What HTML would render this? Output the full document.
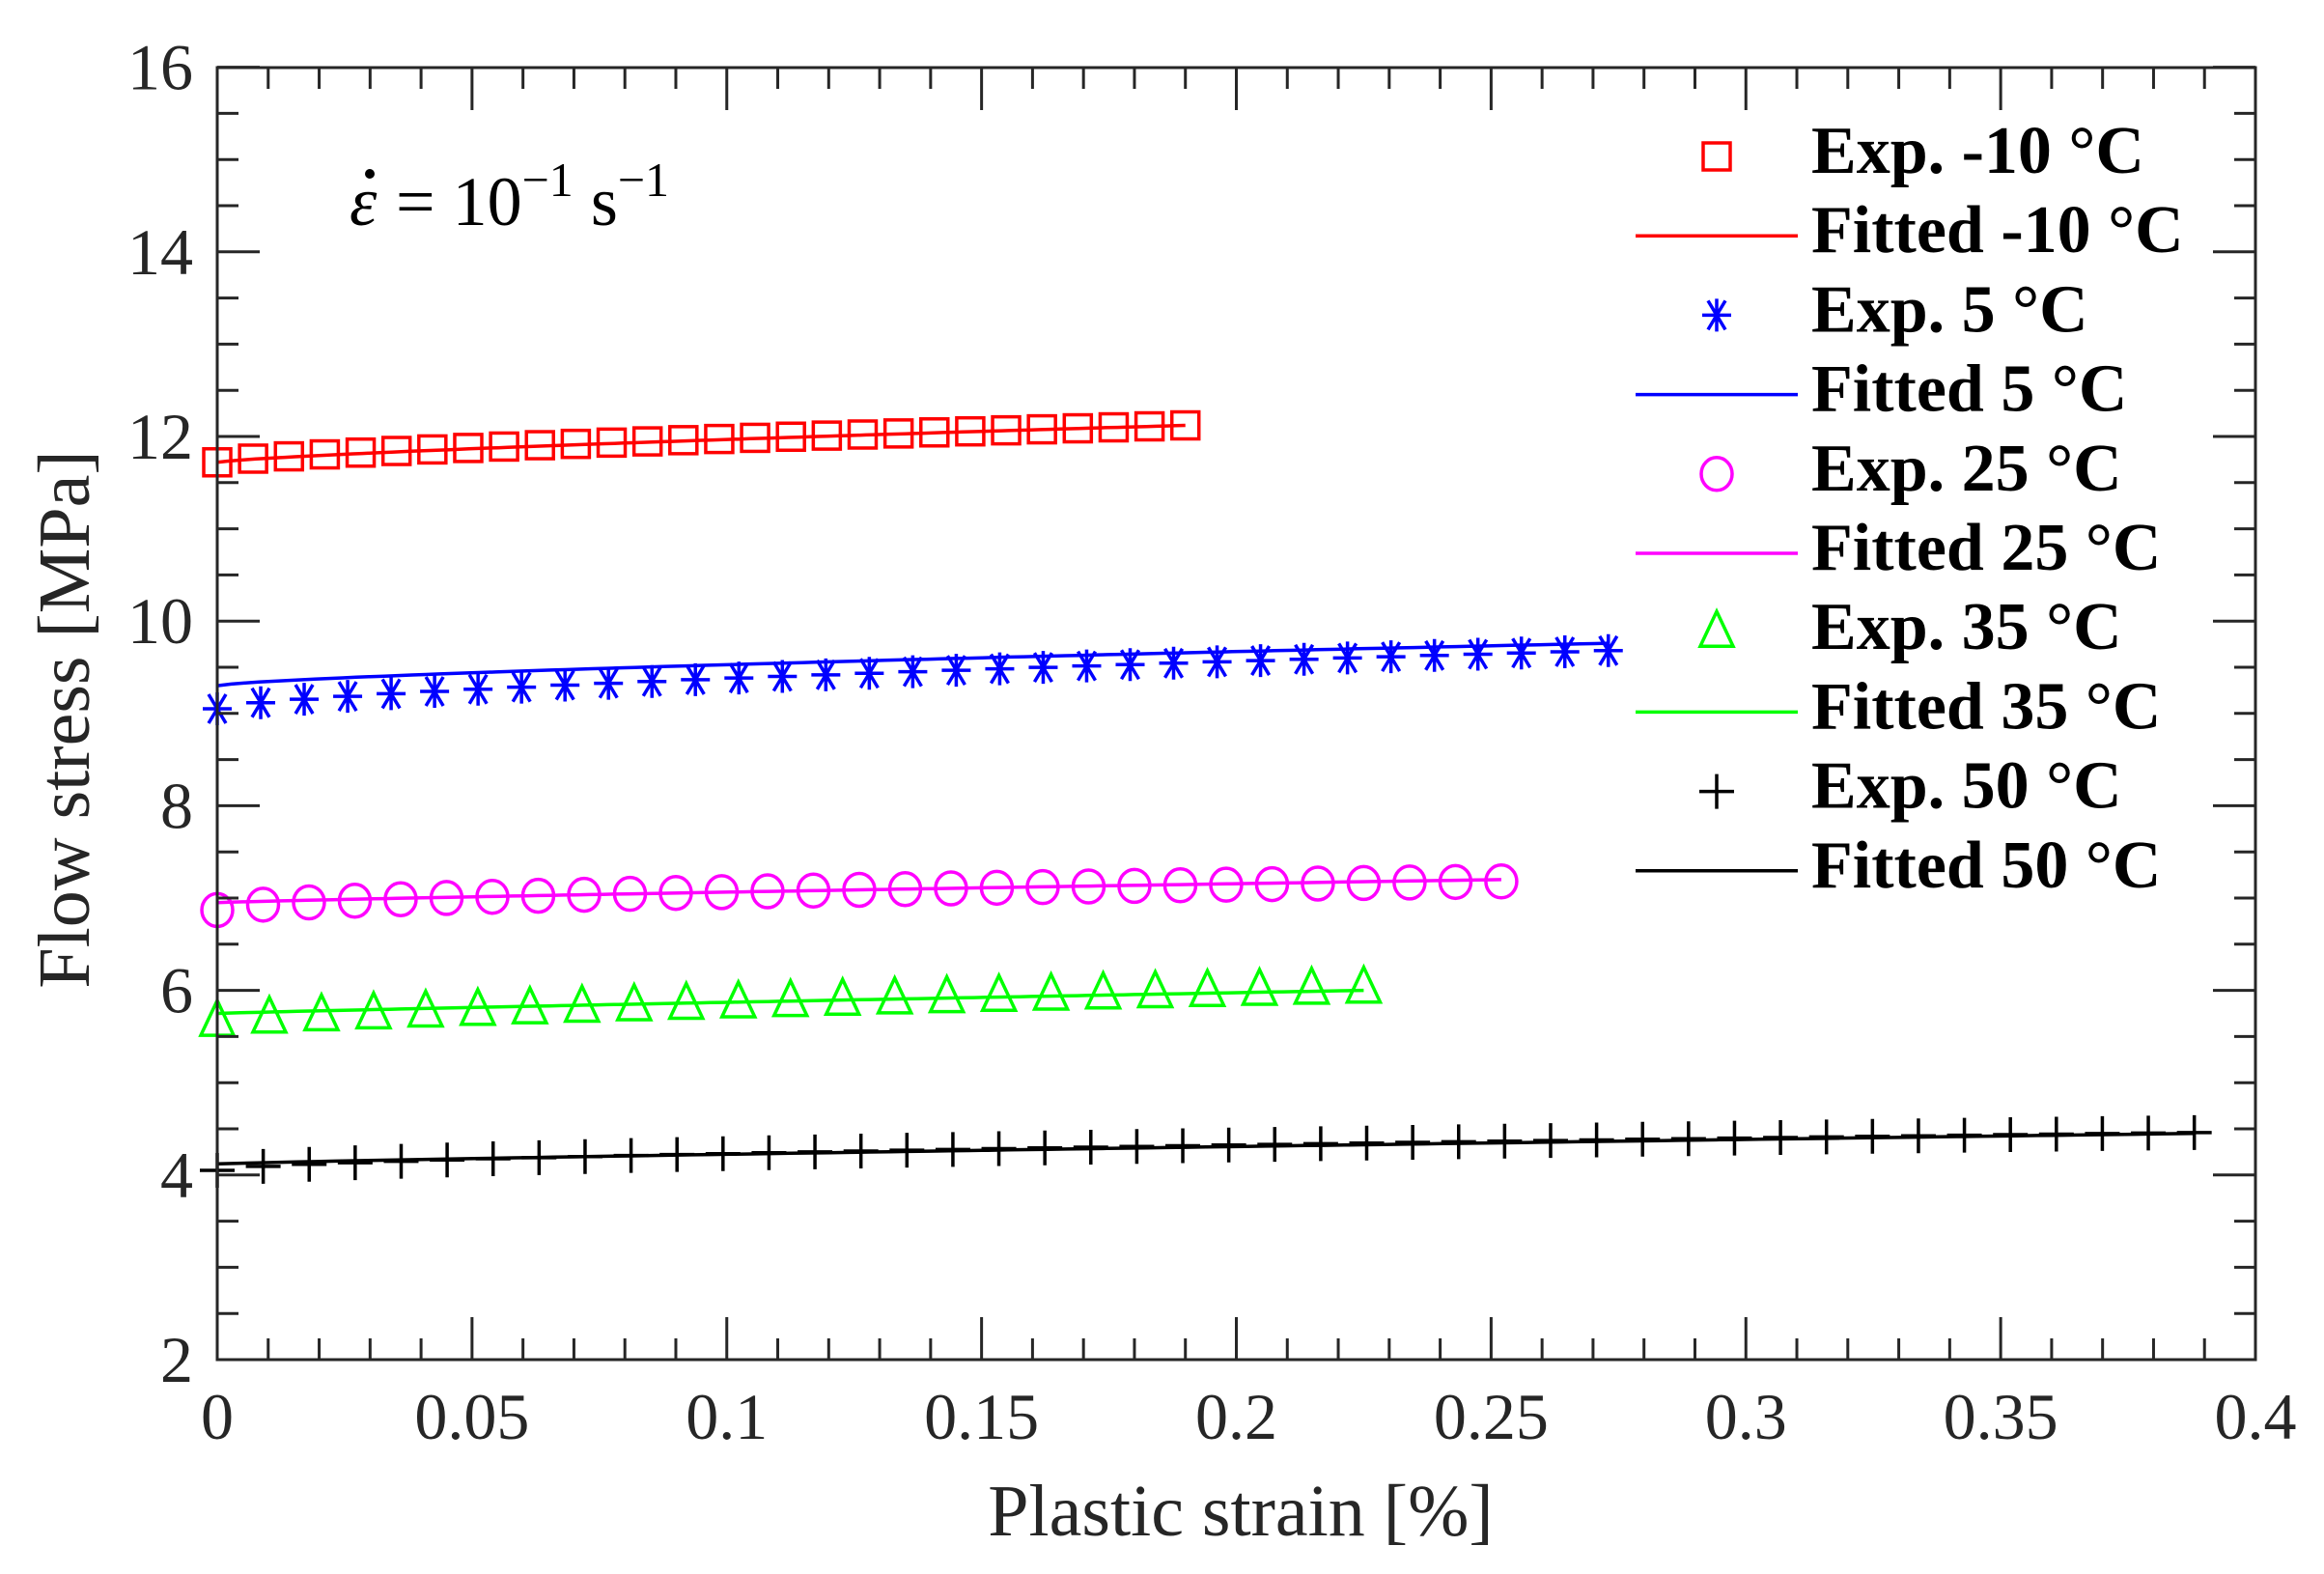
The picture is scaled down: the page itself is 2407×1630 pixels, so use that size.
<!DOCTYPE html>
<html><head><meta charset="utf-8"><style>
html,body{margin:0;padding:0;background:#fff;}
svg{display:block;}
</style></head><body>
<svg id="s" xmlns="http://www.w3.org/2000/svg" width="2407" height="1630" viewBox="0 0 2407 1630" font-family="'Liberation Serif', serif">
<rect width="2407" height="1630" fill="#fff"/>
<g id="plot"></g>
<g id="axes" stroke="#262626" stroke-width="3" fill="none"></g>
<g fill="#262626" font-size="68" id="labels"></g>
<text x="1285" y="1590" font-size="76" text-anchor="middle" fill="#262626">Plastic strain [%]</text>
<text transform="translate(92,745) rotate(-90)" font-size="76" text-anchor="middle" fill="#262626">Flow stress [MPa]</text>
<text x="362" y="233" font-size="72" font-style="italic" fill="#000">ε</text>
<circle cx="383" cy="180" r="5" fill="#000"/>
<text x="410" y="233" font-size="72" fill="#000">= 10<tspan dy="-30" font-size="50">−1</tspan><tspan dy="30"> s</tspan><tspan dy="-30" font-size="50">−1</tspan></text>
<g id="legend"></g>
</svg>
<script>
var NS="http://www.w3.org/2000/svg";
function X(x){return 225+x*5277.5;}
function Y(y){return 1408-(y-2)*95.6;}
function el(p,t,a){var e=document.createElementNS(NS,t);for(var k in a)e.setAttribute(k,a[k]);p.appendChild(e);return e;}
var axes=document.getElementById('axes'),labels=document.getElementById('labels'),plot=document.getElementById('plot'),leg=document.getElementById('legend');
var L=225,R=2336,T=70,B=1408;
el(axes,'rect',{x:L,y:T,width:R-L,height:B-T});
var d='';
for(var i=0;i<=40;i++){var x=X(i*0.01);var len=(i%5==0)?44:22;d+='M'+x+' '+B+'v'+(-len)+'M'+x+' '+T+'v'+len;}
for(var i=0;i<=28;i++){var y=Y(2+i*0.5);var len=(i%4==0)?44:22;d+='M'+L+' '+y+'h'+len+'M'+R+' '+y+'h'+(-len);}
el(axes,'path',{d:d});
var xl=['0','0.05','0.1','0.15','0.2','0.25','0.3','0.35','0.4'];
for(var i=0;i<9;i++){var t=el(labels,'text',{x:X(i*0.05),y:1490,'text-anchor':'middle'});t.textContent=xl[i];}
for(var v=2;v<=16;v+=2){var t=el(labels,'text',{x:200,y:Y(v)+23,'text-anchor':'end'});t.textContent=v;}
function marker(p,type,cx,cy,c){
 var sw=3.5;
 if(type=='s')el(p,'rect',{x:cx-14,y:cy-14,width:28,height:28,fill:'none',stroke:c,'stroke-width':sw});
 else if(type=='o')el(p,'ellipse',{cx:cx,cy:cy,rx:16,ry:17,fill:'none',stroke:c,'stroke-width':sw});
 else if(type=='t')el(p,'path',{d:'M'+cx+' '+(cy-22)+'L'+(cx+17)+' '+(cy+14)+'L'+(cx-17)+' '+(cy+14)+'Z',fill:'none',stroke:c,'stroke-width':sw});
 else if(type=='p')el(p,'path',{d:'M'+(cx-18)+' '+cy+'h36M'+cx+' '+(cy-18)+'v36',stroke:c,'stroke-width':sw});
 else if(type=='x')el(p,'path',{d:'M'+(cx-15)+' '+cy+'h30M'+cx+' '+(cy-17)+'v34M'+(cx-9)+' '+(cy-15)+'L'+(cx+9)+' '+(cy+15)+'M'+(cx+9)+' '+(cy-15)+'L'+(cx-9)+' '+(cy+15),stroke:c,'stroke-width':sw});
}
var S=[
 {c:'#ff0000',m:'s',xe:0.19,n:27,e0:11.72,e1:12.12,ep:0.7,f0:11.72,f1:12.12,fp:0.75},
 {c:'#0000ff',m:'x',xe:0.273,n:32,e0:9.05,e1:9.68,ep:0.65,f0:9.3,f1:9.76,fp:0.7},
 {c:'#ff00ff',m:'o',xe:0.252,n:28,e0:6.87,e1:7.18,ep:0.5,f0:6.95,f1:7.2,fp:0.85},
 {c:'#00ff00',m:'t',xe:0.225,n:22,e0:5.66,e1:6.02,ep:0.75,f0:5.75,f1:6.0,fp:0.9},
 {c:'#000000',m:'p',xe:0.388,n:43,e0:4.05,e1:4.46,ep:0.6,f0:4.12,f1:4.45,fp:0.85}
];
S.forEach(function(s){
 var d='';
 for(var i=0;i<=100;i++){var x=s.xe*i/100;var y=s.f0+(s.f1-s.f0)*Math.pow(i/100,s.fp);d+=(i?'L':'M')+X(x).toFixed(1)+' '+Y(y).toFixed(1);}
 el(plot,'path',{d:d,fill:'none',stroke:s.c,'stroke-width':3.5});
 for(var i=0;i<=s.n;i++){var f=i/s.n;marker(plot,s.m,X(s.xe*f),Y(s.e0+(s.e1-s.e0)*Math.pow(f,s.ep)),s.c);}
});
var names=['-10','5','25','35','50'];
for(var k=0;k<5;k++){
 var s=S[k];
 var y1=162+2*k*82.2,y2=y1+82.2;
 marker(leg,s.m,1778,y1,s.c);
 el(leg,'path',{d:'M1694 '+y2+'H1862',stroke:s.c,'stroke-width':3.5});
 var t=el(leg,'text',{x:1876,y:y1+17,'font-size':70,'font-weight':'bold',fill:'#000'});t.textContent='Exp.  '+names[k]+' °C';
 t.setAttribute('xml:space','preserve');
 var t2=el(leg,'text',{x:1876,y:y2+17,'font-size':70,'font-weight':'bold',fill:'#000'});t2.textContent='Fitted  '+names[k]+' °C';
 t2.setAttribute('xml:space','preserve');
}
</script>
</body></html>
